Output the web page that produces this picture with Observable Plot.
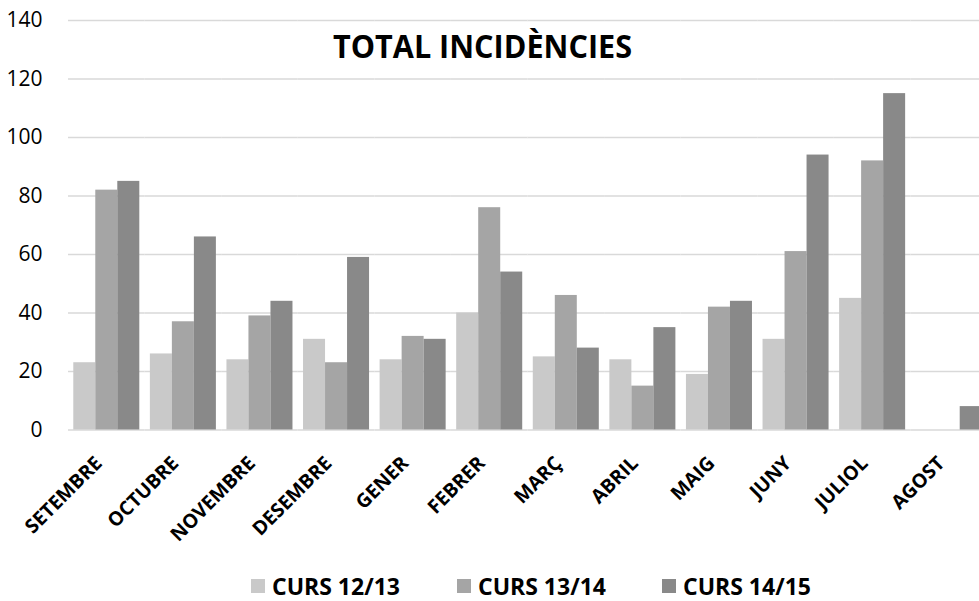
<!DOCTYPE html>
<html>
<head>
<meta charset="utf-8">
<script src="https://cdn.jsdelivr.net/npm/d3@7"></script>
<script src="https://cdn.jsdelivr.net/npm/@observablehq/plot@0.6"></script>
<style>
  html, body { margin: 0; padding: 0; background: #fff; }
  #wrap { position: relative; width: 979px; height: 601px; overflow: hidden; font-family: "Open Sans", sans-serif; }
  #chart { position: absolute; left: 0; top: 0; width: 990px; }
  #chart svg { max-width: none !important; }
  #title { position: absolute; left: 0; top: 0; }
  #legend { position: absolute; left: 0; top: 571px; width: 979px; height: 30px; }
  .item { position: absolute; top: 0; display: flex; align-items: center; font-weight: 700; font-size: 23px; color: #000; white-space: nowrap; line-height: 30px; }
  .swatch { width: 14px; height: 14px; margin-right: 7px; }
</style>
</head>
<body>
<div id="wrap">
  <div id="chart"></div>
  <svg id="title" width="979" height="80"><text x="482.5" y="57.5" text-anchor="middle" font-family="Open Sans" font-weight="700" font-size="33" textLength="299" lengthAdjust="spacingAndGlyphs" fill="#000">TOTAL INCIDÈNCIES</text></svg>
  <div id="legend"></div>
</div>
<script>
// Monthly incident counts per school year
const months = ["SETEMBRE", "OCTUBRE", "NOVEMBRE", "DESEMBRE", "GENER", "FEBRER", "MARÇ", "ABRIL", "MAIG", "JUNY", "JULIOL", "AGOST"];
const series = ["CURS 12/13", "CURS 13/14", "CURS 14/15"];
const curs1213 = [23, 26, 24, 31, 24, 40, 25, 24, 19, 31, 45, null];
const curs1314 = [82, 37, 39, 23, 32, 76, 46, 15, 42, 61, 92, null];
const curs1415 = [85, 66, 44, 59, 31, 54, 28, 35, 44, 94, 115, 8];
const yTicks = [0, 20, 40, 60, 80, 100, 120, 140];
const colors = ["#c9c9c9", "#a5a5a5", "#898989"];

const valuesBySeries = [curs1213, curs1314, curs1415];
const rows = months.flatMap((month, i) =>
  series.map((s, j) => ({ month, series: s, value: valuesBySeries[j][i] }))
).filter(d => d.value != null);

const chart = Plot.plot({
  width: 990,
  height: 545,
  marginLeft: 68,
  marginRight: 3,
  marginTop: 20,
  marginBottom: 115.5,
  style: { fontFamily: "Open Sans", background: "transparent", overflow: "visible", maxWidth: "none" },
  // contiguous month bands; the gap between groups comes from the inner padding
  fx: { domain: months, padding: 0, round: false, label: null, axis: null },
  x: { domain: series, paddingInner: 0, paddingOuter: 0.24, round: false, axis: null },
  y: { domain: [0, 140], label: null, axis: null },
  color: { domain: series, range: colors },
  marks: [
    Plot.ruleY(yTicks, { stroke: "#d9d9d9", strokeWidth: 1.4 }),
    Plot.barY(rows, { fx: "month", x: "series", y: "value", fill: "series" }),
    Plot.axisY(yTicks, { anchor: "left", tickSize: 0, tickPadding: 26, fontSize: 21, fill: "#000", label: null }),
    Plot.axisFx({ anchor: "bottom", tickRotate: -45, tickSize: 0, tickPadding: 30, dx: -8, fontSize: 19.5, fontWeight: "bold", fill: "#000", label: null })
  ]
});
document.getElementById("chart").appendChild(chart);

// Legend below the chart
const legend = document.getElementById("legend");
const lefts = [251, 457, 662];
series.forEach((s, i) => {
  const item = document.createElement("div");
  item.className = "item";
  item.style.left = lefts[i] + "px";
  const sw = document.createElement("span");
  sw.className = "swatch";
  sw.style.background = colors[i];
  item.appendChild(sw);
  item.appendChild(document.createTextNode(s));
  legend.appendChild(item);
});
</script>
</body>
</html>
